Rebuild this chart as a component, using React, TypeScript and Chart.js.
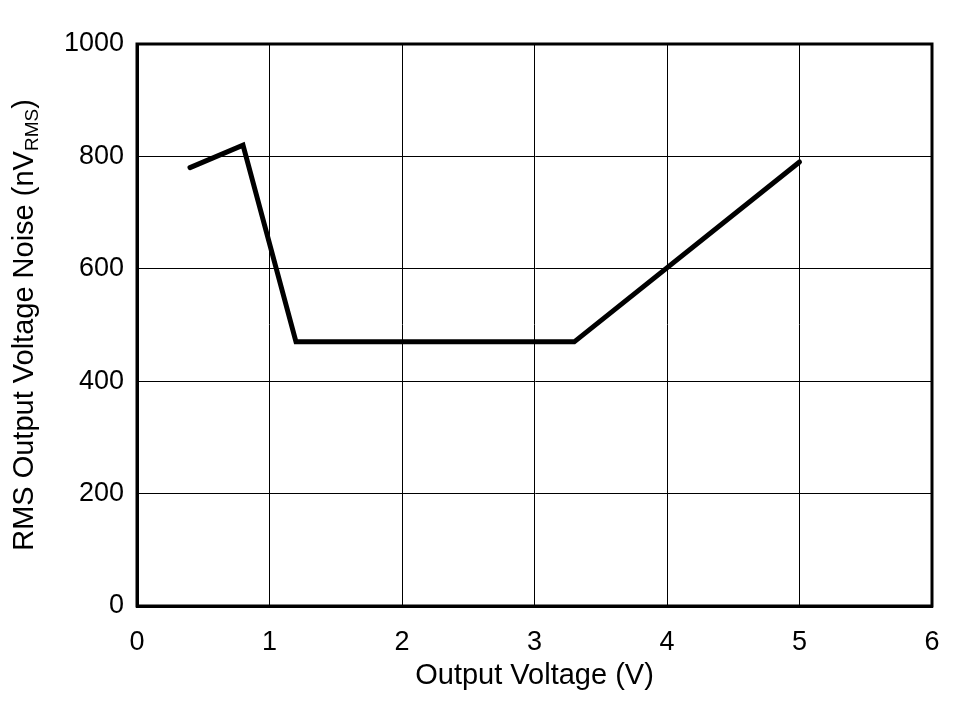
import React, { useEffect, useRef } from "react";
import { Chart, registerables } from "chart.js";

Chart.register(...registerables);

const outputVoltage = [0.4, 0.8, 1.2, 3.3, 5.0];
const rmsNoise = [780, 820, 470, 470, 790];
const xTicks = [0, 1, 2, 3, 4, 5, 6];
const yTicks = [0, 200, 400, 600, 800, 1000];
const xTitle = "Output Voltage (V)";
const yTitleMain = "RMS Output Voltage Noise (nV";
const yTitleSub = "RMS";
const yTitleEnd = ")";

const FONT = "'Liberation Sans', Arial, sans-serif";

const yTitlePlugin = {
  id: "yTitle",
  afterDraw(chart: any) {
    const ctx = chart.ctx as CanvasRenderingContext2D;
    const area = chart.chartArea;
    const cy = (area.top + area.bottom) / 2;
    ctx.save();
    ctx.fillStyle = "#000";
    ctx.textBaseline = "alphabetic";
    ctx.textAlign = "left";
    const mainFont = `29px ${FONT}`;
    const subFont = `19px ${FONT}`;
    ctx.font = mainFont;
    const w1 = ctx.measureText(yTitleMain).width;
    const w3 = ctx.measureText(yTitleEnd).width;
    ctx.font = subFont;
    const w2 = ctx.measureText(yTitleSub).width;
    const total = w1 + w2 + w3;
    ctx.translate(33, cy);
    ctx.rotate(-Math.PI / 2);
    let x = -total / 2;
    ctx.font = mainFont;
    ctx.fillText(yTitleMain, x, 0);
    x += w1;
    ctx.font = subFont;
    ctx.fillText(yTitleSub, x, 5);
    x += w2;
    ctx.font = mainFont;
    ctx.fillText(yTitleEnd, x, 0);
    ctx.restore();
  },
};

export default function App() {
  const ref = useRef<HTMLCanvasElement | null>(null);
  useEffect(() => {
    if (!ref.current) return;
    const chart = new Chart(ref.current, {
      type: "scatter",
      data: {
        datasets: [
          {
            data: outputVoltage.map((x, i) => ({ x, y: rmsNoise[i] })),
            showLine: true,
            borderColor: "#000",
            borderWidth: 5,
            pointRadius: 0,
            borderCapStyle: "round",
            borderJoinStyle: "miter",
            tension: 0,
          },
        ],
      },
      options: {
        animation: false,
        responsive: false,
        maintainAspectRatio: false,
        layout: { padding: { left: 0, top: 44, right: 32, bottom: 0 } },
        plugins: {
          legend: { display: false },
          tooltip: { enabled: false },
        },
        scales: {
          x: {
            type: "linear",
            min: 0,
            max: 6,
            afterBuildTicks: (s: any) => {
              s.ticks = xTicks.map((v) => ({ value: v }));
            },
            afterFit: (s: any) => {
              s.height = 95;
            },
            grid: {
              color: "#000",
              lineWidth: 1,
              drawTicks: false,
            },
            border: { display: true, color: "#000", width: 3 },
            ticks: {
              color: "#000",
              font: { family: FONT, size: 27 },
              padding: 20,
              maxRotation: 0,
              callback: (v: any) => String(v),
            },
            title: {
              display: true,
              text: xTitle,
              color: "#000",
              font: { family: FONT, size: 29 },
              padding: { top: 0, bottom: 8 },
            },
          },
          y: {
            type: "linear",
            min: 0,
            max: 1000,
            afterBuildTicks: (s: any) => {
              s.ticks = yTicks.map((v) => ({ value: v }));
            },
            afterFit: (s: any) => {
              s.width = 137;
            },
            grid: {
              color: "#000",
              lineWidth: 1,
              drawTicks: false,
            },
            border: { display: true, color: "#000", width: 3 },
            ticks: {
              color: "#000",
              font: { family: FONT, size: 27 },
              padding: 13,
              callback: (v: any) => String(v),
            },
          },
        },
      },
      plugins: [
        yTitlePlugin,
        {
          id: "frame",
          afterDatasetsDraw(chart: any) {
            const { ctx, chartArea: a } = chart;
            ctx.save();
            ctx.strokeStyle = "#000";
            ctx.lineWidth = 3;
            ctx.strokeRect(a.left, a.top, a.right - a.left, a.bottom - a.top);
            ctx.restore();
          },
        },
      ],
    } as any);
    return () => chart.destroy();
  }, []);
  return (
    <div style={{ position: "fixed", left: 0, top: 0, width: 964, height: 701, background: "#fff" }}>
      <canvas ref={ref} width={964} height={701} style={{ display: "block" }} />
    </div>
  );
}
